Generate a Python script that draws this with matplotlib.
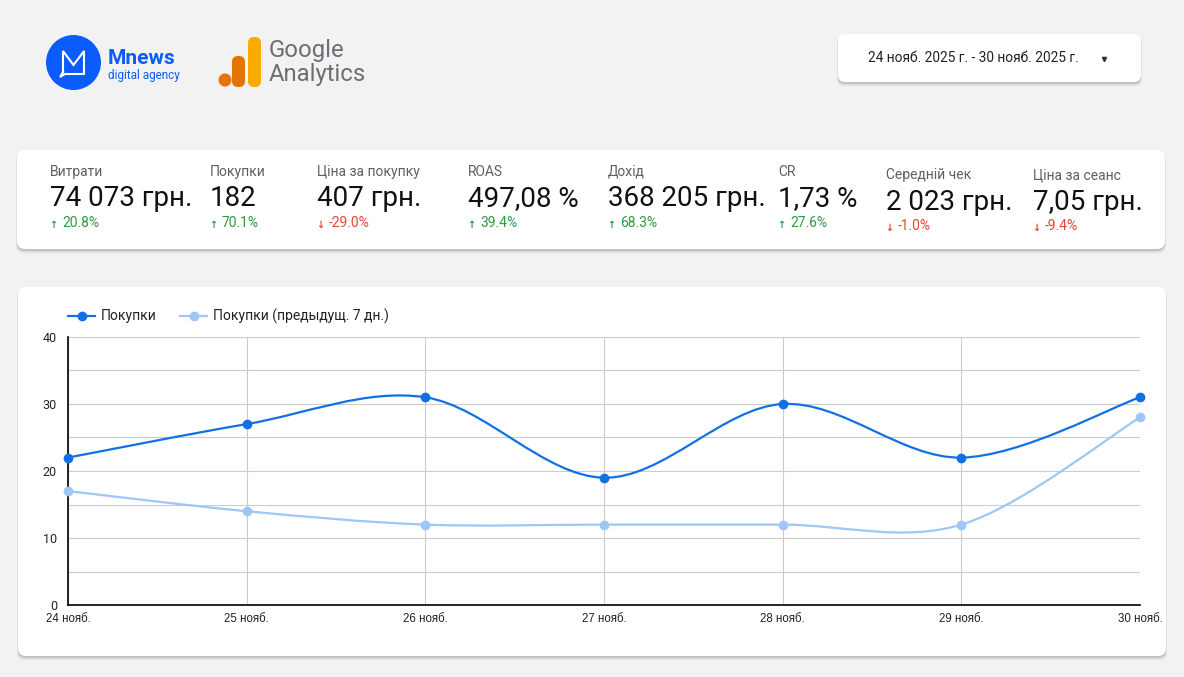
import numpy as np
import matplotlib
matplotlib.use("Agg")
import matplotlib.pyplot as plt
from matplotlib.patches import FancyBboxPatch, Circle, PathPatch
from matplotlib.path import Path

# data
days = ["24 нояб.", "25 нояб.", "26 нояб.", "27 нояб.", "28 нояб.", "29 нояб.", "30 нояб."]
purchases = [22, 27, 31, 19, 30, 22, 31]
purchases_prev = [17, 14, 12, 12, 12, 12, 28]

kpi_labels = ["Витрати", "Покупки", "Ціна за покупку", "ROAS", "Дохід", "CR",
              "Середній чек", "Ціна за сеанс"]
kpi_values = ["74 073 грн.", "182", "407 грн.", "497,08 %", "368 205 грн.", "1,73 %",
              "2 023 грн.", "7,05 грн."]
kpi_changes = [20.8, 70.1, -29.0, 39.4, 68.3, 27.6, -1.0, -9.4]

date_range = "24 нояб. 2025 г. - 30 нояб. 2025 г."

W, H = 1184, 677
BG = "#f2f2f2"
BLUE = "#1170e4"
LIGHT = "#9ec6f6"
GREEN = "#2e9a43"
RED = "#ea4335"

fig = plt.figure(figsize=(W / 100, H / 100), dpi=100, facecolor=BG)
bg = fig.add_axes([0, 0, 1, 1])
bg.set_xlim(0, W)
bg.set_ylim(H, 0)
bg.axis("off")

ROB = ["Roboto", "DejaVu Sans"]


def card(x0, y0, x1, y1, r=8):
    for i, a in enumerate([0.10, 0.07, 0.04]):
        bg.add_patch(FancyBboxPatch((x0 - 0.5 * i, y0 + 1 + i * 0.7), x1 - x0 + i, y1 - y0 + 0.8 + i * 0.6,
                                    boxstyle="round,pad=0,rounding_size=%d" % r,
                                    fc=(0, 0, 0, a), ec="none", zorder=1))
    bg.add_patch(FancyBboxPatch((x0, y0), x1 - x0, y1 - y0,
                                boxstyle="round,pad=0,rounding_size=%d" % r,
                                fc="white", ec="none", zorder=2))


# logos
bg.add_patch(Circle((73.5, 62.5), 27.5, fc="#0b5cff", ec="none", zorder=2))
bg.plot([63, 63, 73.5, 84, 84, 65, 60, 63], [72, 51, 65, 51, 74, 74, 77, 72],
        color="white", lw=1.5, solid_joinstyle="miter", zorder=3)
bg.text(108, 59, "Mnews", fontsize=15, fontweight="bold", color="#0b5cff",
        family=ROB, va="center", zorder=3)
bg.text(108, 75, "digital agency", fontsize=8.5, color="#0b5cff",
        family=ROB, va="center", zorder=3)

bg.add_patch(Circle((225, 80), 6.5, fc="#e8710a", ec="none", zorder=2))
bg.add_patch(FancyBboxPatch((232, 56), 13, 31, boxstyle="round,pad=0,rounding_size=6",
                            fc="#e37400", ec="none", zorder=2))
bg.add_patch(FancyBboxPatch((248, 37), 13, 50, boxstyle="round,pad=0,rounding_size=6",
                            fc="#f9ab00", ec="none", zorder=2))
bg.text(269, 50, "Google", fontsize=17.2, color="#6b6e72", family=ROB, va="center", zorder=3)
bg.text(269, 74, "Analytics", fontsize=17.2, color="#6b6e72", family=ROB, va="center", zorder=3)

# date selector
card(838, 34, 1141, 82, r=7)
bg.text(868, 58, date_range, fontsize=9.9, color="#222222", family=ROB, va="center", zorder=3)
bg.plot([1104], [58.5], marker="v", ms=3, color="#333333", zorder=3)

# KPI card
card(17, 150, 1165, 249, r=8)
kpi_x = [50, 210, 317, 468, 608, 778, 886, 1033]
for i in range(len(kpi_labels)):
    x = kpi_x[i]
    dy = 3 if i >= 6 else 0
    bg.text(x, 172 + dy, kpi_labels[i], fontsize=10, color="#5f5f5f", family=ROB, va="center", zorder=3)
    bg.text(x, 199 + dy, kpi_values[i], fontsize=20, color="#111111", family=ROB, va="center", zorder=3)
    ch = kpi_changes[i]
    col = GREEN if ch > 0 else RED
    arrow = "↑" if ch > 0 else "↓"
    bg.text(x - 0.5, 224.5 + dy, arrow, fontsize=7, fontweight="bold", color=col,
            family=["DejaVu Sans"], va="center", zorder=3)
    bg.text(x + 12, 223 + dy, "%.1f%%" % ch, fontsize=10, color=col, family=ROB, va="center", zorder=3)

# chart card
card(18, 287, 1166, 656, r=8)

# legend
bg.plot([68, 95], [316, 316], color=BLUE, lw=1.6, zorder=3)
bg.plot([81.5], [316], marker="o", ms=6, color=BLUE, zorder=3)
bg.text(101, 316, "Покупки", fontsize=10, color="#222222", family=ROB, va="center", zorder=3)
bg.plot([180, 207], [316, 316], color=LIGHT, lw=1.6, zorder=3)
bg.plot([193.5], [316], marker="o", ms=6, color=LIGHT, zorder=3)
bg.text(213, 316, "Покупки (предыдущ. 7 дн.)", fontsize=10, color="#222222", family=ROB,
        va="center", zorder=3)

# chart
px0, px1, py0, py1 = 68, 1140, 605, 337
ax = fig.add_axes([px0 / W, 1 - py0 / H, (px1 - px0) / W, (py0 - py1) / H])
ax.set_facecolor("none")
ax.set_xlim(0, len(days) - 1)
ax.set_ylim(0, 40)
ax.set_yticks([0, 10, 20, 30, 40])
ax.set_yticks([5, 15, 25, 35], minor=True)
ax.set_xticks(range(len(days)))
ax.set_xticklabels(days)
ax.grid(True, which="both", color="#cccccc", lw=0.8)
ax.set_axisbelow(True)
for s in ["top", "right"]:
    ax.spines[s].set_visible(False)
ax.spines["left"].set_color("black")
ax.spines["bottom"].set_color("black")
ax.spines["left"].set_linewidth(1.2)
ax.spines["bottom"].set_linewidth(1.2)
ax.tick_params(which="both", length=0)
ax.tick_params(axis="y", pad=8)
ax.tick_params(axis="x", pad=6)
for lab in ax.get_yticklabels():
    lab.set_family(ROB)
    lab.set_fontsize(9)
    lab.set_color("#222222")
for lab in ax.get_xticklabels():
    lab.set_family(["Liberation Sans Narrow", "Liberation Sans", "DejaVu Sans"])
    lab.set_fontsize(8.3)
    lab.set_color("#222222")


def smooth_line(ys, color):
    n = len(ys)
    pts = [(i, ys[i]) for i in range(n)]
    verts = [pts[0]]
    codes = [Path.MOVETO]
    for i in range(n - 1):
        p0 = pts[max(i - 1, 0)]
        p1 = pts[i]
        p2 = pts[i + 1]
        p3 = pts[min(i + 2, n - 1)]
        c1 = (p1[0] + (p2[0] - p0[0]) / 6, p1[1] + (p2[1] - p0[1]) / 6)
        c2 = (p2[0] - (p3[0] - p1[0]) / 6, p2[1] - (p3[1] - p1[1]) / 6)
        verts += [c1, c2, p2]
        codes += [Path.CURVE4] * 3
    ax.add_patch(PathPatch(Path(verts, codes), fill=False, ec=color, lw=1.6,
                           clip_on=False, zorder=3, capstyle="round"))
    ax.plot(range(n), ys, linestyle="none", marker="o", ms=6, color=color,
            clip_on=False, zorder=4)


smooth_line(purchases_prev, LIGHT)
smooth_line(purchases, BLUE)

fig.savefig("out.png", dpi=100, facecolor=BG)
